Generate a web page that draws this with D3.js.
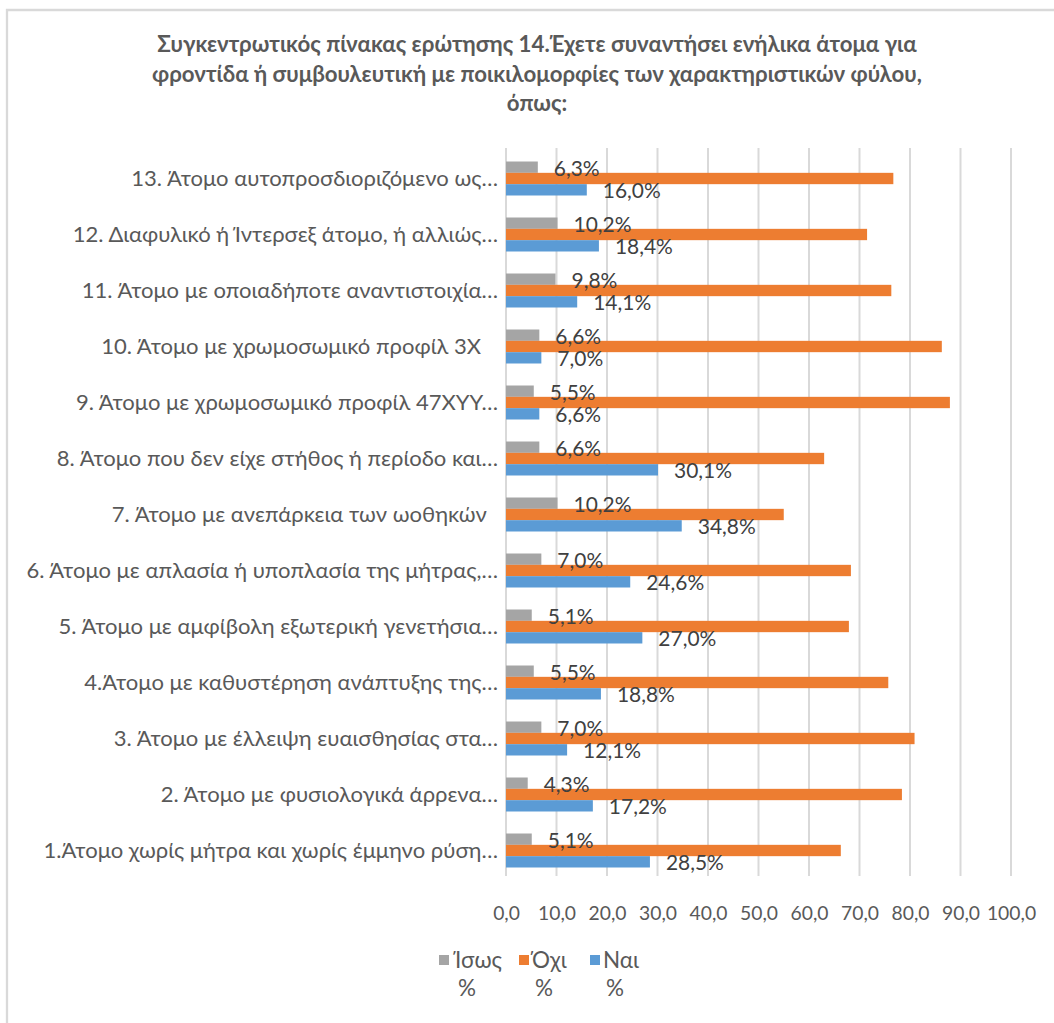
<!DOCTYPE html>
<html>
<head>
<meta charset="utf-8">
<script src="https://cdn.jsdelivr.net/npm/d3@7"></script>
<style>
  html, body { margin: 0; padding: 0; background: #fff; }
  svg { display: block; }
  text { font-family: Lato, "Open Sans", sans-serif; }
</style>
</head>
<body>
<svg id="chart" width="1054" height="1023"></svg>
<script>
// ---- data ----
const titleLines = [
  "Συγκεντρωτικός πίνακας ερώτησης 14.Έχετε συναντήσει ενήλικα άτομα για",
  "φροντίδα ή συμβουλευτική με ποικιλομορφίες των χαρακτηριστικών φύλου,",
  "όπως:"
];
const categories = [
  "1.Άτομο χωρίς μήτρα και χωρίς έμμηνο ρύση…",
  "2. Άτομο με φυσιολογικά άρρενα…",
  "3. Άτομο με έλλειψη ευαισθησίας στα…",
  "4.Άτομο με καθυστέρηση ανάπτυξης της…",
  "5. Άτομο με αμφίβολη εξωτερική γενετήσια…",
  "6. Άτομο με απλασία ή υποπλασία της μήτρας,…",
  "7. Άτομο με ανεπάρκεια των ωοθηκών  ",
  "8. Άτομο που δεν είχε στήθος ή περίοδο και…",
  "9. Άτομο με χρωμοσωμικό προφίλ 47ΧΥΥ…",
  "10. Άτομο με χρωμοσωμικό προφίλ 3Χ   ",
  "11. Άτομο με οποιαδήποτε αναντιστοιχία…",
  "12. Διαφυλικό ή Ίντερσεξ άτομο, ή αλλιώς…",
  "13. Άτομο αυτοπροσδιοριζόμενο ως…"
];
const isosValues = [5.1, 4.3, 7.0, 5.5, 5.1, 7.0, 10.2, 6.6, 5.5, 6.6, 9.8, 10.2, 6.3];
const oxiValues  = [66.3, 78.4, 80.9, 75.7, 67.9, 68.3, 55.0, 63.0, 87.9, 86.3, 76.3, 71.5, 76.7];
const naiValues  = [28.5, 17.2, 12.1, 18.8, 27.0, 24.6, 34.8, 30.1, 6.6, 7.0, 14.1, 18.4, 16.0];
const seriesNames = ["Ίσως", "Όχι", "Ναι"];
const seriesColors = ["#A5A5A5", "#ED7D31", "#5B9BD5"];
const xTicks = [0, 10, 20, 30, 40, 50, 60, 70, 80, 90, 100];

// ---- helpers ----
const svg = d3.select("#chart");
function fitSize(text, target, weight) {
  const t = svg.append("text").attr("font-size", 100).attr("font-weight", weight || "normal")
    .style("white-space", "pre").text(text);
  const w = t.node().getComputedTextLength();
  t.remove();
  return 100 * target / w;
}
const fmt = v => v.toFixed(1).replace(".", ",");

// ---- frame ----
svg.append("path").attr("d", "M7,1030 L7,10 L1060,10")
  .attr("fill", "none").attr("stroke", "#D9D9D9").attr("stroke-width", 2.3);

// ---- title ----
const titleSize = fitSize(titleLines[0], 760, "bold");
svg.append("g").selectAll("text").data(titleLines).join("text")
  .attr("x", 537).attr("y", (d, i) => 52 + i * 29.5)
  .attr("text-anchor", "middle").attr("font-weight", "bold")
  .attr("font-size", titleSize).attr("fill", "#595959").text(d => d);

// ---- scales ----
const x = d3.scaleLinear().domain([0, 100]).range([506, 1011]);
const plotTop = 148, plotBottom = 876;
const y = d3.scaleBand().domain(d3.range(categories.length).reverse())
  .range([150.5, 878.5]).paddingInner(0.393).paddingOuter(0.1965);
const ySub = d3.scaleBand().domain(seriesNames).range([0, y.bandwidth()]);

// ---- gridlines ----
svg.append("g").selectAll("line").data(xTicks).join("line")
  .attr("x1", d => x(d)).attr("x2", d => x(d))
  .attr("y1", plotTop).attr("y2", plotBottom)
  .attr("stroke", "#D9D9D9").attr("stroke-width", 2);

// ---- x axis ----
const tickSize = fitSize("90,0", 38);
const xAxis = d3.axisBottom(x).tickValues(xTicks).tickFormat(fmt).tickSize(0).tickPadding(0);
const ax = svg.append("g").attr("transform", "translate(0,904)").call(xAxis);
ax.select(".domain").remove();
ax.selectAll("text").attr("font-size", tickSize).attr("fill", "#595959")
  .attr("font-family", "Lato, 'Open Sans', sans-serif").attr("dy", "0.85em");

// ---- category labels ----
const catSize = fitSize(categories[12], 367);
svg.append("g").selectAll("text").data(categories).join("text")
  .attr("x", 498).attr("y", (d, i) => y(i) + y.bandwidth() / 2)
  .attr("dy", "0.35em").attr("text-anchor", "end")
  .style("white-space", "pre")
  .attr("font-size", catSize).attr("fill", "#595959").text(d => d);

// ---- bars ----
const seriesData = [isosValues, oxiValues, naiValues];
const gBars = svg.append("g");
seriesNames.forEach((name, s) => {
  gBars.append("g").selectAll("rect").data(seriesData[s]).join("rect")
    .attr("x", x(0))
    .attr("y", (d, i) => y(i) + ySub(name))
    .attr("width", d => x(d) - x(0))
    .attr("height", ySub.bandwidth())
    .attr("fill", seriesColors[s]);
});

// ---- data labels (Ίσως and Ναι) ----
const lblSize = fitSize("16,0%", 58);
const gLbl = svg.append("g");
[[0, 8.5], [2, 8.5]].forEach(([s, off]) => {
  const name = seriesNames[s];
  gLbl.append("g").selectAll("text").data(seriesData[s]).join("text")
    .attr("x", d => x(d) + 16)
    .attr("y", (d, i) => y(i) + ySub(name) + ySub.bandwidth() / 2 + off)
    .attr("font-size", lblSize).attr("fill", "#404040")
    .text(d => fmt(d) + "%");
});

// ---- legend ----
const legSize = fitSize("Ίσως", 47);
const legX = [439, 519, 590];
const legTextDx = [16, 13, 13];
const gLeg = svg.append("g");
seriesNames.forEach((name, s) => {
  gLeg.append("rect").attr("x", legX[s]).attr("y", 955).attr("width", 10).attr("height", 10)
    .attr("fill", seriesColors[s]);
  gLeg.append("text").attr("x", legX[s] + legTextDx[s]).attr("y", 968)
    .attr("font-size", legSize).attr("fill", "#595959").text(name);
  gLeg.append("text").attr("x", legX[s] + legTextDx[s] + 3).attr("y", 996)
    .attr("font-size", legSize).attr("fill", "#595959").text("%");
});
</script>
</body>
</html>
